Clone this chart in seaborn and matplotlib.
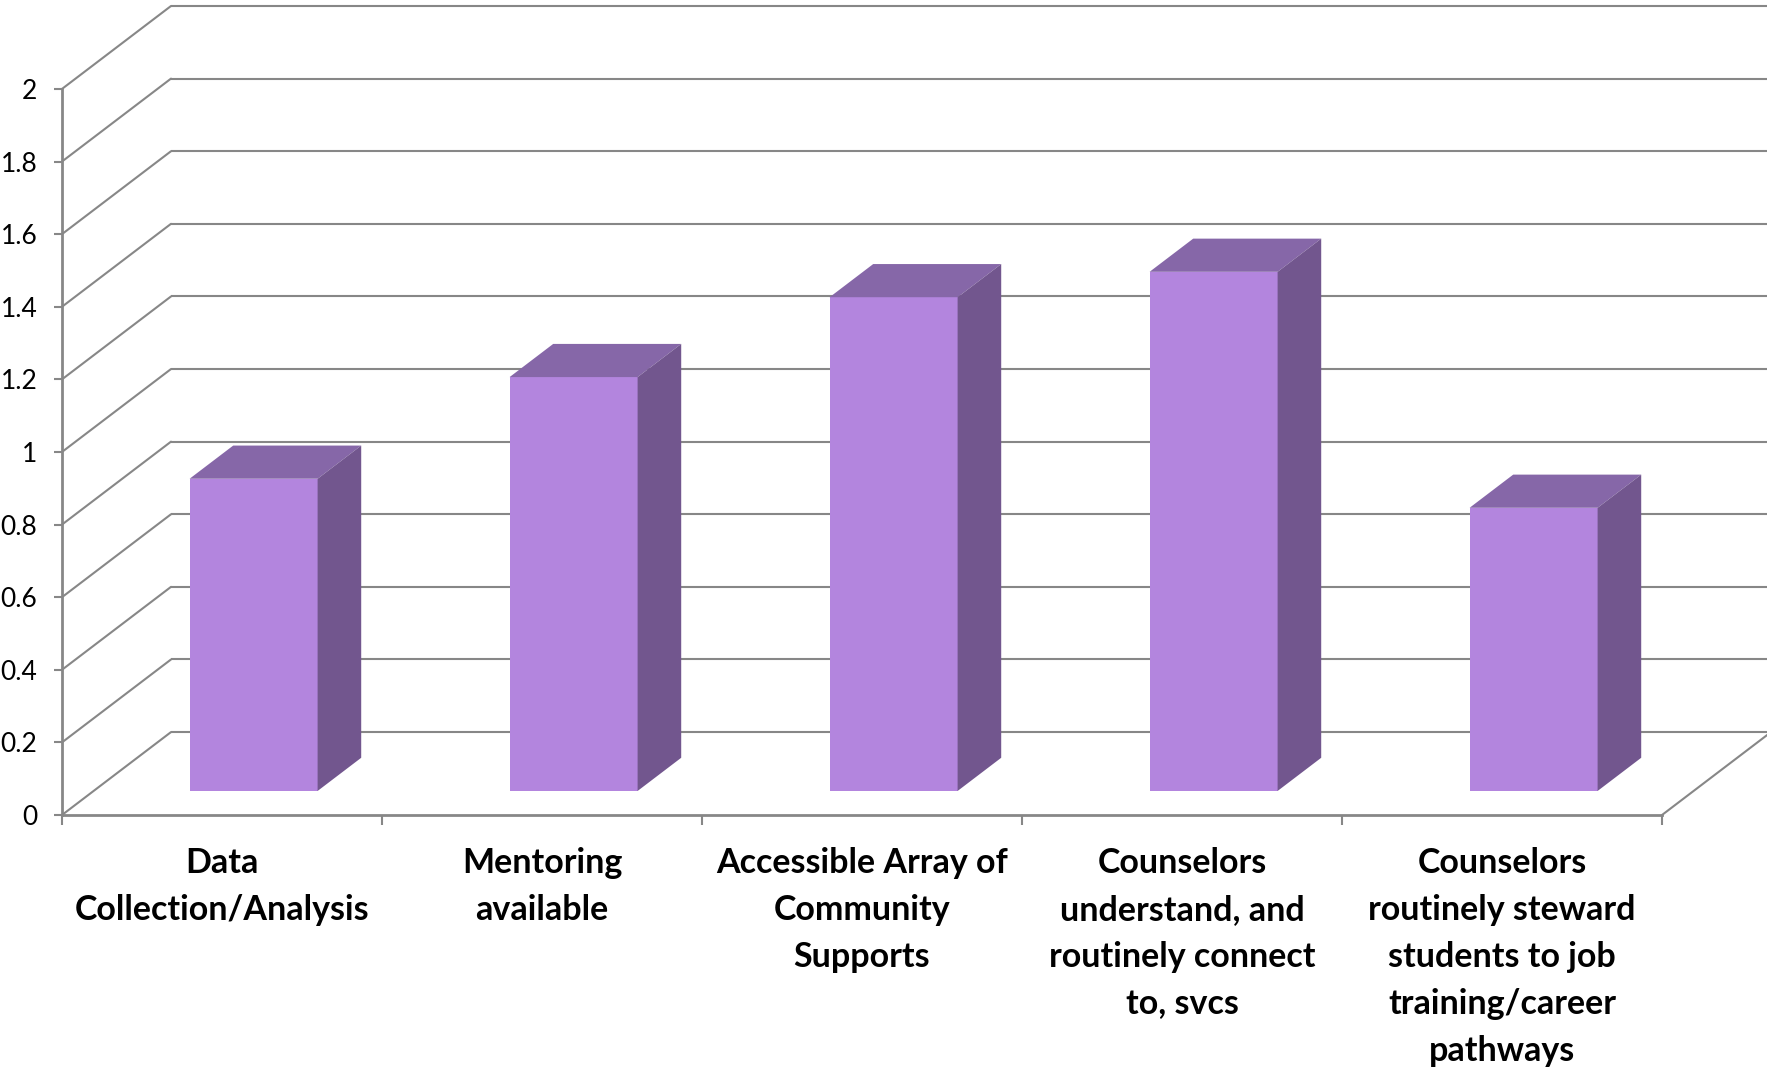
import matplotlib
matplotlib.use("Agg")
import matplotlib.pyplot as plt
import matplotlib.transforms as mtransforms
from matplotlib.patches import Polygon
import seaborn as sns
import pandas as pd
import numpy as np

# ---- data ----
categories = [
    "Data\nCollection/Analysis",
    "Mentoring\navailable",
    "Accessible Array of\nCommunity\nSupports",
    "Counselors\nunderstand, and\nroutinely connect\nto, svcs",
    "Counselors\nroutinely steward\nstudents to job\ntraining/career\npathways",
]
values = [0.86, 1.14, 1.36, 1.43, 0.78]
y_ticks = [0, 0.2, 0.4, 0.6, 0.8, 1.0, 1.2, 1.4, 1.6, 1.8, 2.0]
y_tick_labels = ["0", "0.2", "0.4", "0.6", "0.8", "1", "1.2", "1.4", "1.6", "1.8", "2"]

# ---- style ----
sns.set_style("white")
plt.rcParams["font.family"] = ["Lato", "DejaVu Sans"]

FRONT = "#B385DE"
SIDE = "#72568E"
TOP = "#8667A8"
GRID = "#878787"
DX, DY = 0.3406, 0.2284     # oblique depth offset (data units)
D0, D1 = 0.29, 0.69         # bar depth span (fraction of floor depth)

W, H = 1767, 1067
fig = plt.figure(figsize=(W / 100, H / 100), dpi=100)
ax = fig.add_axes([62 / W, 252 / H, 1709 / W, 809 / H])

df = pd.DataFrame({"category": categories, "value": values})
sns.barplot(data=df, x="category", y="value", color=FRONT, width=0.4,
            saturation=1, ax=ax, zorder=3, linewidth=0, errorbar=None)

xmin, xmax = -0.5, len(categories) - 0.5

# walls / gridlines
for v in y_ticks:
    ax.plot([xmin + DX, xmax + DX], [v + DY, v + DY], color=GRID, lw=1.5,
            zorder=1, clip_on=False, solid_capstyle="butt")
    ax.plot([xmin, xmin + DX], [v, v + DY], color=GRID, lw=1.5,
            zorder=1, clip_on=False)
# floor right edge
ax.plot([xmax, xmax + DX], [0, DY], color=GRID, lw=1.5, zorder=1, clip_on=False)

# 3D faces for bars
dd = D1 - D0
for p in list(ax.patches):
    x0, w, h = p.get_x(), p.get_width(), p.get_height()
    p.set_transform(mtransforms.Affine2D().translate(D0 * DX, D0 * DY) + ax.transData)
    fx0, fx1 = x0 + D0 * DX, x0 + w + D0 * DX
    fy0, fy1 = D0 * DY, h + D0 * DY
    top = [(fx0, fy1), (fx1, fy1), (fx1 + dd * DX, fy1 + dd * DY), (fx0 + dd * DX, fy1 + dd * DY)]
    side = [(fx1, fy0), (fx1 + dd * DX, fy0 + dd * DY), (fx1 + dd * DX, fy1 + dd * DY), (fx1, fy1)]
    ax.add_patch(Polygon(top, closed=True, facecolor=TOP, edgecolor="none", zorder=3))
    ax.add_patch(Polygon(side, closed=True, facecolor=SIDE, edgecolor="none", zorder=3))

ax.set_xlim(xmin, xmax + DX)
ax.set_ylim(0, 2 + DY)

for s in ["top", "right"]:
    ax.spines[s].set_visible(False)
ax.spines["left"].set_bounds(0, 2)
ax.spines["bottom"].set_bounds(xmin, xmax)
for s in ["left", "bottom"]:
    ax.spines[s].set_color(GRID)
    ax.spines[s].set_linewidth(2)

ax.set_yticks(y_ticks, y_tick_labels)
ax.tick_params(axis="y", length=5.8, width=1.5, color=GRID, labelsize=19,
               pad=12, labelcolor="black", direction="out", left=True)
ax.set_xticks(range(len(categories)), categories)
ax.set_xticks(np.arange(xmin, xmax + 0.01, 1), minor=True)
ax.tick_params(axis="x", which="major", length=0, pad=23, labelsize=24.5, labelcolor="black")
ax.tick_params(axis="x", which="minor", length=7.2, width=1.5, color=GRID,
               direction="out", bottom=True)
for t in ax.get_xticklabels():
    t.set_fontweight("bold")
    t.set_linespacing(1.58)
    t.set_verticalalignment("top")

ax.set_xlabel("")
ax.set_ylabel("")
ax.grid(False)

fig.savefig("out.png", dpi=100)
